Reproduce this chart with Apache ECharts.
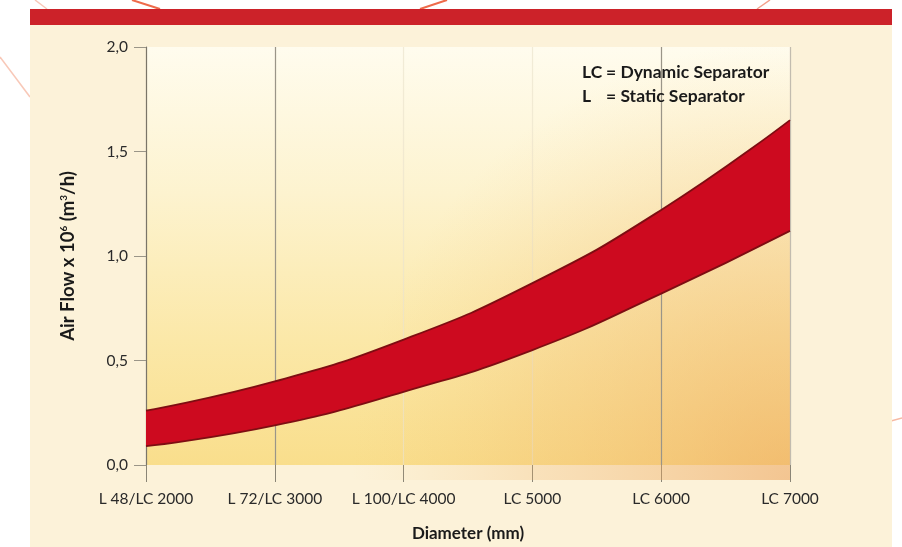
<!DOCTYPE html>
<html>
<head>
<meta charset="utf-8">
<script src="https://cdn.jsdelivr.net/npm/echarts@6/dist/echarts.min.js"></script>
<style>
  html, body { margin: 0; padding: 0; background: #ffffff; }
  #chart { width: 902px; height: 547px; }
</style>
</head>
<body>
<div id="chart"></div>
<script>
// Separator sizes along the x axis
const sizes = ['L 48/LC 2000', 'L 72/LC 3000', 'L 100/LC 4000', 'LC 5000', 'LC 6000', 'LC 7000'];
// Air flow range (x 10^6 m3/h): lower and upper edge of the band
const flowLow  = [0.09, 0.19, 0.35, 0.55, 0.82, 1.12];
const flowHigh = [0.26, 0.40, 0.60, 0.87, 1.22, 1.65];
// Value-axis ticks
const yTicks = [0, 0.5, 1.0, 1.5, 2.0];
// Sizes whose guide lines are drawn stronger
const strongGuides = ['L 72/LC 3000', 'LC 6000'];
const softGuides = ['LC 7000'];

const bandWidth = flowHigh.map((v, i) => +(v - flowLow[i]).toFixed(3));

const FONT = 'Lato, "DejaVu Sans", sans-serif';
const chart = echarts.init(document.getElementById('chart'), null, { renderer: 'canvas' });

const gridL = 146, gridR = 790, gridT = 47, gridB = 475;

chart.setOption({
  animation: false,
  backgroundColor: '#ffffff',
  graphic: [
    // decorative thin lines outside the panel
    { type: 'line', z: -20, shape: { x1: 132, y1: 0, x2: 160, y2: 9 }, style: { stroke: '#ee6a4a', lineWidth: 2 } },
    { type: 'line', z: -20, shape: { x1: 447, y1: 0, x2: 420, y2: 9 }, style: { stroke: '#ee6a4a', lineWidth: 2 } },
    { type: 'line', z: -20, shape: { x1: 770, y1: 0, x2: 757, y2: 9 }, style: { stroke: '#f3a08a', lineWidth: 1.5 } },
    { type: 'line', z: -20, shape: { x1: 35, y1: 0, x2: 47, y2: 9 }, style: { stroke: '#f8c8b8', lineWidth: 1.5 } },
    { type: 'line', z: -20, shape: { x1: 0, y1: 57, x2: 30, y2: 97 }, style: { stroke: '#f8c8b8', lineWidth: 1.5 } },
    { type: 'line', z: -20, shape: { x1: 880, y1: 424, x2: 902, y2: 418 }, style: { stroke: '#f6b9a4', lineWidth: 1.5 } },
    // cream panel and red header strip
    { type: 'rect', z: -10, shape: { x: 30, y: 25, width: 862, height: 522 }, style: { fill: '#fcf2d9' } },
    { type: 'rect', z: -10, shape: { x: 30, y: 9, width: 862, height: 16 }, style: { fill: '#cc2229' } },
    // warm tint toward the lower right of the plot
    {
      type: 'rect', z: 1, silent: true,
      shape: { x: gridL, y: gridT - 6, width: gridR - gridL, height: gridB - gridT + 11 },
      style: {
        fill: new echarts.graphic.RadialGradient(1, 1, 1.0, [
          { offset: 0, color: 'rgba(236,160,86,0.55)' },
          { offset: 0.6, color: 'rgba(240,178,100,0.25)' },
          { offset: 1, color: 'rgba(245,200,120,0)' }
        ])
      }
    },
    // notes on the separator codes
    { type: 'text', z: 10, left: 582, top: 63, style: { text: 'LC', font: 'bold 17.5px ' + FONT, fill: '#1a1a1a' } },
    { type: 'text', z: 10, left: 606, top: 63, style: { text: '= Dynamic Separator', font: 'bold 17.5px ' + FONT, fill: '#1a1a1a' } },
    { type: 'text', z: 10, left: 582, top: 87, style: { text: 'L', font: 'bold 17.5px ' + FONT, fill: '#1a1a1a' } },
    { type: 'text', z: 10, left: 606, top: 87, style: { text: '= Static Separator', font: 'bold 17.5px ' + FONT, fill: '#1a1a1a' } }
  ],
  grid: {
    left: gridL, right: 902 - gridR, top: gridT, bottom: 547 - gridB,
    show: true, borderWidth: 0,
    backgroundColor: new echarts.graphic.LinearGradient(0, 0, 0, 1, [
      { offset: 0, color: '#fffcee' },
      { offset: 0.35, color: '#fdf3cf' },
      { offset: 0.7, color: '#fbe8a8' },
      { offset: 1, color: '#f9de8c' }
    ])
  },
  xAxis: {
    type: 'category',
    data: sizes,
    boundaryGap: false,
    name: 'Diameter (mm)',
    nameLocation: 'middle',
    nameGap: 60,
    nameTextStyle: { fontFamily: FONT, fontWeight: 'bold', fontSize: 17, color: '#1a1a1a' },
    axisLine: { show: false },
    axisTick: { show: true, interval: 0, length: 17, lineStyle: { color: '#8a8576', width: 1 } },
    axisLabel: { interval: 0, margin: 26, fontFamily: FONT, fontSize: 15.5, color: '#2a2a2a' },
    splitLine: { show: true, interval: 0, lineStyle: { color: 'rgba(235,228,205,0.7)', width: 1.2 } }
  },
  yAxis: {
    type: 'value',
    min: yTicks[0],
    max: yTicks[yTicks.length - 1],
    interval: yTicks[1] - yTicks[0],
    name: '{t|Air Flow x 10}{s|6}{t| (m}{s|3}{t|/h)}',
    nameLocation: 'middle',
    nameRotate: 90,
    nameGap: 68,
    nameTextStyle: {
      rich: {
        t: { fontFamily: FONT, fontWeight: 'bold', fontSize: 18.5, color: '#1a1a1a' },
        s: { fontFamily: FONT, fontWeight: 'bold', fontSize: 10, color: '#1a1a1a', verticalAlign: 'top', padding: [0, 0, 9, 0] }
      }
    },
    axisLine: { show: true, lineStyle: { color: '#7a7568', width: 1.2 } },
    axisTick: { show: true, length: 12, lineStyle: { color: '#9a9588' } },
    axisLabel: {
      margin: 18, fontFamily: FONT, fontSize: 15.5, color: '#2a2a2a',
      formatter: v => v.toFixed(1).replace('.', ',')
    },
    splitLine: { show: false }
  },
  series: [
    {
      name: 'low',
      type: 'line',
      stack: 'band',
      data: flowLow,
      smooth: 0.5,
      symbol: 'none',
      z: 3,
      lineStyle: { color: '#7e0d12', width: 1.8 },
      areaStyle: { opacity: 0 },
      markLine: {
        silent: true,
        symbol: 'none',
        label: { show: false },
        z: 2,
        data: strongGuides.map(s => ({ xAxis: s, lineStyle: { color: '#9a9588', width: 1.2, type: 'solid' } }))
          .concat(softGuides.map(s => ({ xAxis: s, lineStyle: { color: '#c2bcaf', width: 1.2, type: 'solid' } })))
      }
    },
    {
      name: 'range',
      type: 'line',
      stack: 'band',
      data: bandWidth,
      smooth: 0.5,
      symbol: 'none',
      z: 3,
      lineStyle: { color: '#7e0d12', width: 1.8 },
      areaStyle: { color: '#cd0a1f', opacity: 1 }
    }
  ]
});
</script>
</body>
</html>
